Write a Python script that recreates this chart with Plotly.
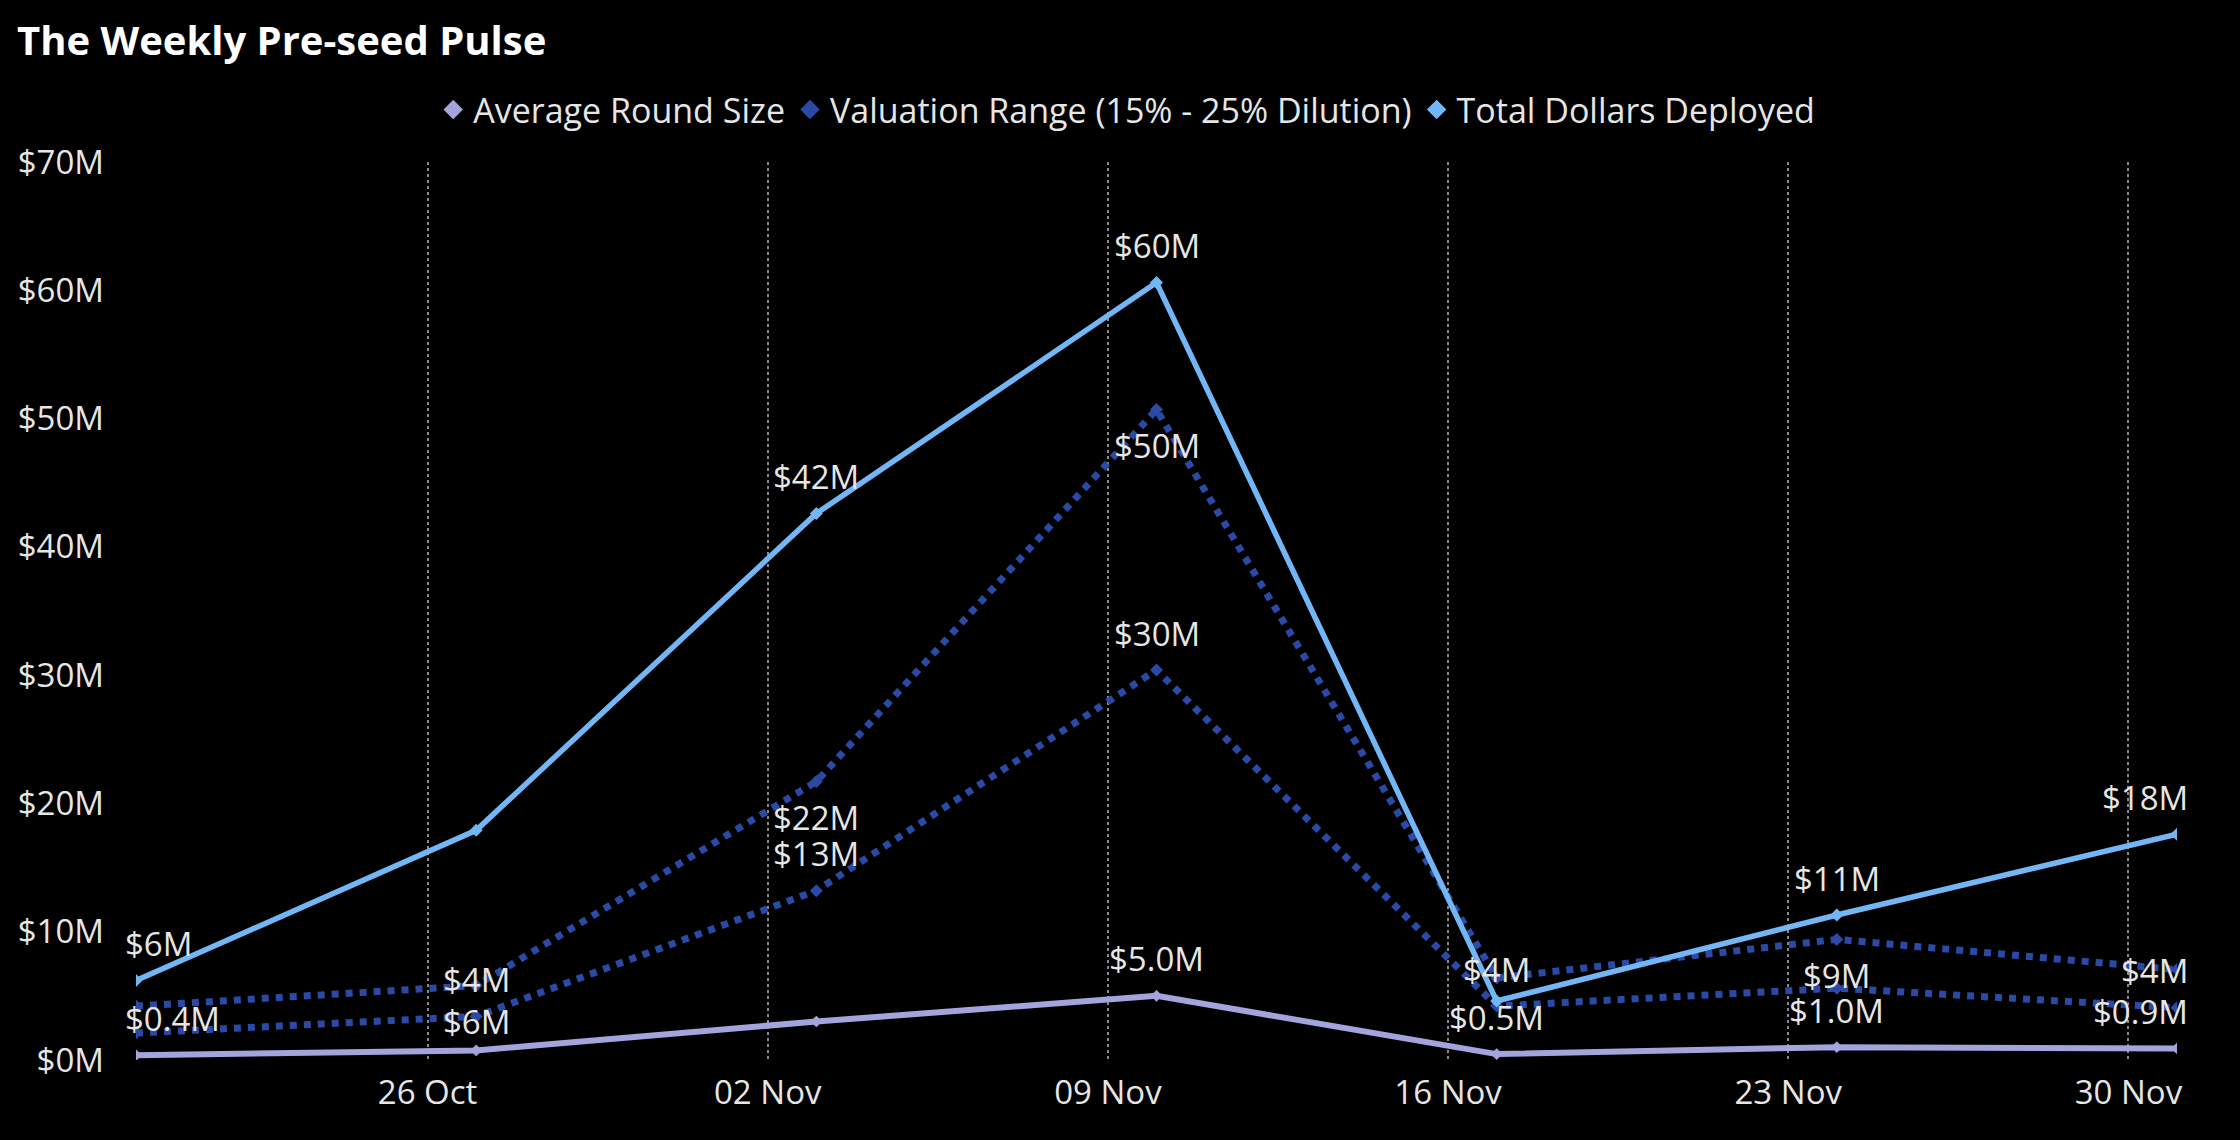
import plotly.graph_objects as go

# ---------------- data ----------------
dates = ["2023-10-20", "2023-10-27", "2023-11-03", "2023-11-10",
         "2023-11-17", "2023-11-24", "2023-12-01"]
avg_round = [0.38, 0.75, 3.0, 5.0, 0.46, 1.0, 0.9]          # $M
val_high = [4.2, 5.8, 21.7, 50.7, 6.4, 9.4, 7.05]            # $M
val_low = [2.1, 3.4, 13.2, 30.4, 4.2, 5.6, 4.07]             # $M
total_deployed = [6.2, 17.9, 42.6, 60.6, 4.6, 11.3, 17.6]    # $M

avg_labels = ["$0.4M", "", "", "$5.0M", "$0.5M", "$1.0M", "$0.9M"]
high_labels = ["", "$6M", "$22M", "$50M", "", "$9M", ""]
low_labels = ["", "$4M", "$13M", "$30M", "$4M", "", "$4M"]
total_labels = ["$6M", "", "$42M", "$60M", "", "$11M", "$18M"]

series_names = ["Average Round Size",
                "Valuation Range (15% - 25% Dilution)",
                "Total Dollars Deployed"]
y_ticks = [0, 10, 20, 30, 40, 50, 60, 70]
y_tick_labels = ["$0M", "$10M", "$20M", "$30M", "$40M", "$50M", "$60M", "$70M"]
x_ticks = ["2023-10-26", "2023-11-02", "2023-11-09", "2023-11-16",
           "2023-11-23", "2023-11-30"]

# ---------------- style ----------------
FONT = "Open Sans"
C_AVG = "#A3A3DE"
C_VAL = "#2B4AA6"
C_TOT = "#72B6F6"
TXT = "#E6E6E6"
LBL_SIZE = 33

fig = go.Figure()

fig.add_trace(go.Scatter(x=dates, y=avg_round, mode="lines+markers",
                         line=dict(color=C_AVG, width=6),
                         marker=dict(symbol="diamond", size=9, color=C_AVG),
                         showlegend=False, name=series_names[0]))
fig.add_trace(go.Scatter(x=dates, y=val_low, mode="lines+markers",
                         line=dict(color=C_VAL, width=7, dash="dot"),
                         marker=dict(symbol="diamond", size=10, color=C_VAL),
                         showlegend=False, name=series_names[1]))
fig.add_trace(go.Scatter(x=dates, y=val_high, mode="lines+markers",
                         line=dict(color=C_VAL, width=7, dash="dot"),
                         marker=dict(symbol="diamond", size=10, color=C_VAL),
                         showlegend=False, name=series_names[1]))
fig.add_trace(go.Scatter(x=dates, y=total_deployed, mode="lines+markers",
                         line=dict(color=C_TOT, width=5.5),
                         marker=dict(symbol="diamond", size=10, color=C_TOT),
                         showlegend=False, name=series_names[2]))

# legend entries (diamond only)
for name, col in zip(series_names, [C_AVG, C_VAL, C_TOT]):
    fig.add_trace(go.Scatter(x=[None], y=[None], mode="markers", name=name,
                             marker=dict(symbol="diamond", size=15, color=col)))


def add_labels(values, labels, above):
    n = len(values)
    for i, (v, t) in enumerate(zip(values, labels)):
        if not t:
            continue
        if i == 0:
            xa, xs = "left", -12
        elif i == n - 1:
            xa, xs = "right", 12
        else:
            xa, xs = "center", 0
        fig.add_annotation(x=dates[i], y=v, text=t, showarrow=False,
                           xanchor=xa, xshift=xs, yanchor="middle",
                           yshift=37 if above else -36, borderpad=0,
                           font=dict(family=FONT, size=LBL_SIZE, color=TXT))


add_labels(avg_round, avg_labels, True)
add_labels(val_low, low_labels, True)
add_labels(val_high, high_labels, False)
add_labels(total_deployed, total_labels, True)

fig.update_layout(
    width=2240, height=1140,
    paper_bgcolor="#000000", plot_bgcolor="#000000",
    margin=dict(l=136, r=63, t=162, b=80, autoexpand=False),
    font=dict(family=FONT, color=TXT, size=LBL_SIZE),
    title=dict(text="<b>The Weekly Pre-seed Pulse</b>",
               x=17 / 2240, xref="container", xanchor="left",
               y=1 - 41 / 1140, yref="container", yanchor="middle",
               font=dict(family=FONT, size=40, color="#FFFFFF")),
    legend=dict(orientation="h", xref="container", x=0.503, xanchor="center",
                yref="container", y=1 - 110 / 1140, yanchor="middle",
                font=dict(family=FONT, size=34, color=TXT),
                itemwidth=30, bgcolor="rgba(0,0,0,0)"),
    showlegend=True,
)

fig.update_xaxes(type="date", range=[dates[0], dates[-1]],
                 tickvals=x_ticks, tickformat="%d %b", automargin=False,
                 showgrid=True, gridcolor="#8A8A8A", griddash="dot", gridwidth=1.5,
                 zeroline=False, showline=False, ticks="",
                 ticklabelstandoff=10,
                 tickfont=dict(family=FONT, size=LBL_SIZE, color=TXT))
fig.update_yaxes(range=[0, 70], tickmode="array", tickvals=y_ticks,
                 ticktext=y_tick_labels, automargin=False,
                 showgrid=False, zeroline=False, showline=False, ticks="",
                 ticklabelstandoff=31,
                 tickfont=dict(family=FONT, size=LBL_SIZE, color=TXT))

fig.write_html("out.html", config={"displayModeBar": False},
               post_script="document.body.style.margin='0';"
                           "document.body.style.background='#000';")
